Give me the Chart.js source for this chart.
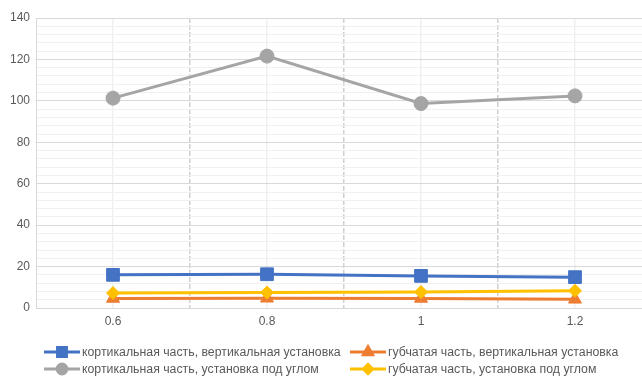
<!DOCTYPE html>
<html>
<head>
<meta charset="utf-8">
<script src="https://cdn.jsdelivr.net/npm/chart.js@4/dist/chart.umd.min.js"></script>
<style>
  html, body { margin: 0; padding: 0; background: #fff; overflow: hidden; }
  #wrap { width: 662px; height: 376px; }
</style>
</head>
<body>
<div id="wrap"><canvas id="c" width="662" height="376"></canvas></div>
<script>
// Categories and series values
const categories = ['0.6', '0.8', '1', '1.2'];
const corticalVertical = [16.0, 16.3, 15.5, 14.9];
const spongyVertical   = [4.6, 4.7, 4.6, 4.2];
const corticalAngled   = [101.3, 121.6, 98.7, 102.4];
const spongyAngled     = [7.2, 7.5, 7.7, 8.3];
const seriesLabels = [
  'кортикальная часть, вертикальная установка',
  'губчатая часть, вертикальная установка',
  'кортикальная часть, установка под углом',
  'губчатая часть, установка под углом'
];
const yTickLabels = [0, 20, 40, 60, 80, 100, 120, 140];

const FONT = '"Liberation Sans", Arial, sans-serif';
const TEXT = '#595959';

function series(label, data, color, style, radius, order) {
  return {
    label, data,
    borderColor: color, backgroundColor: color,
    borderWidth: 3,
    pointStyle: style, pointRadius: radius, pointHoverRadius: radius,
    pointBorderWidth: 1, pointBorderColor: color, pointBackgroundColor: color,
    tension: 0, order
  };
}

const datasets = [
  series(seriesLabels[0], corticalVertical, '#4472C4', 'rect', 9, 4),
  series(seriesLabels[1], spongyVertical, '#ED7D31', 'triangle', 7.5, 3),
  series(seriesLabels[2], corticalAngled, '#A5A5A5', 'circle', 7, 2),
  series(seriesLabels[3], spongyAngled, '#FFC000', 'rectRot', 6.5, 1)
];

// Two-column legend drawn under the plot
const gridLegend = {
  id: 'gridLegend',
  afterDraw(chart) {
    const ctx = chart.ctx;
    const cols = [44, 350];
    const rows = [352, 369];
    ctx.save();
    ctx.font = '12.3px ' + FONT;
    ctx.textBaseline = 'middle';
    ctx.textAlign = 'left';
    chart.data.datasets.forEach((ds, i) => {
      const x = cols[i % 2], y = rows[Math.floor(i / 2)];
      ctx.strokeStyle = ds.borderColor;
      ctx.lineWidth = 3;
      ctx.beginPath();
      ctx.moveTo(x, y);
      ctx.lineTo(x + 36, y);
      ctx.stroke();
      Chart.helpers.drawPoint(ctx, {
        pointStyle: ds.pointStyle,
        radius: ds.pointRadius * 0.7,
        borderWidth: 1,
        rotation: 0
      }, x + 18, y);
      ctx.fillStyle = ds.borderColor;
      ctx.fill();
      ctx.fillStyle = TEXT;
      ctx.fillText(ds.label, x + 38, y + 0.5);
    });
    ctx.restore();
  }
};

new Chart(document.getElementById('c'), {
  type: 'line',
  data: { labels: categories, datasets },
  options: {
    responsive: false,
    animation: false,
    events: [],
    layout: { padding: { top: 18, right: 0, bottom: 48, left: 0 } },
    plugins: { legend: { display: false }, tooltip: { enabled: false } },
    scales: {
      x: {
        type: 'category',
        offset: true,
        grid: {
          offset: true,
          color: (c) => c.index === 0 ? 'rgba(0,0,0,0)' : '#D0D0D0',
          lineWidth: 1.5,
          drawTicks: false
        },
        border: { display: true, color: '#D9D9D9', width: 1, dash: [5, 2] },
        ticks: { color: TEXT, font: { family: FONT, size: 12 }, padding: 6, maxRotation: 0 },
        afterFit(s) { s.height = 20; }
      },
      xMinor: {
        type: 'category',
        position: 'bottom',
        offset: true,
        grid: { offset: false, color: '#F0F0F0', lineWidth: 1.5, drawTicks: false },
        border: { display: false },
        ticks: { display: false },
        afterFit(s) { s.height = 0; }
      },
      y: {
        min: 0, max: 140,
        ticks: {
          stepSize: 4,
          autoSkip: false,
          color: TEXT,
          font: { family: FONT, size: 12 },
          padding: 6,
          callback: (v) => yTickLabels.includes(v) ? String(v) : ''
        },
        grid: {
          drawTicks: false,
          color: (c) => (c.tick && c.tick.value % 20 === 0) ? '#D9D9D9' : '#F0F0F0',
          lineWidth: 1
        },
        border: { display: true, color: '#D9D9D9' },
        afterFit(s) { s.width = 36; }
      }
    }
  },
  plugins: [gridLegend]
});
</script>
</body>
</html>
